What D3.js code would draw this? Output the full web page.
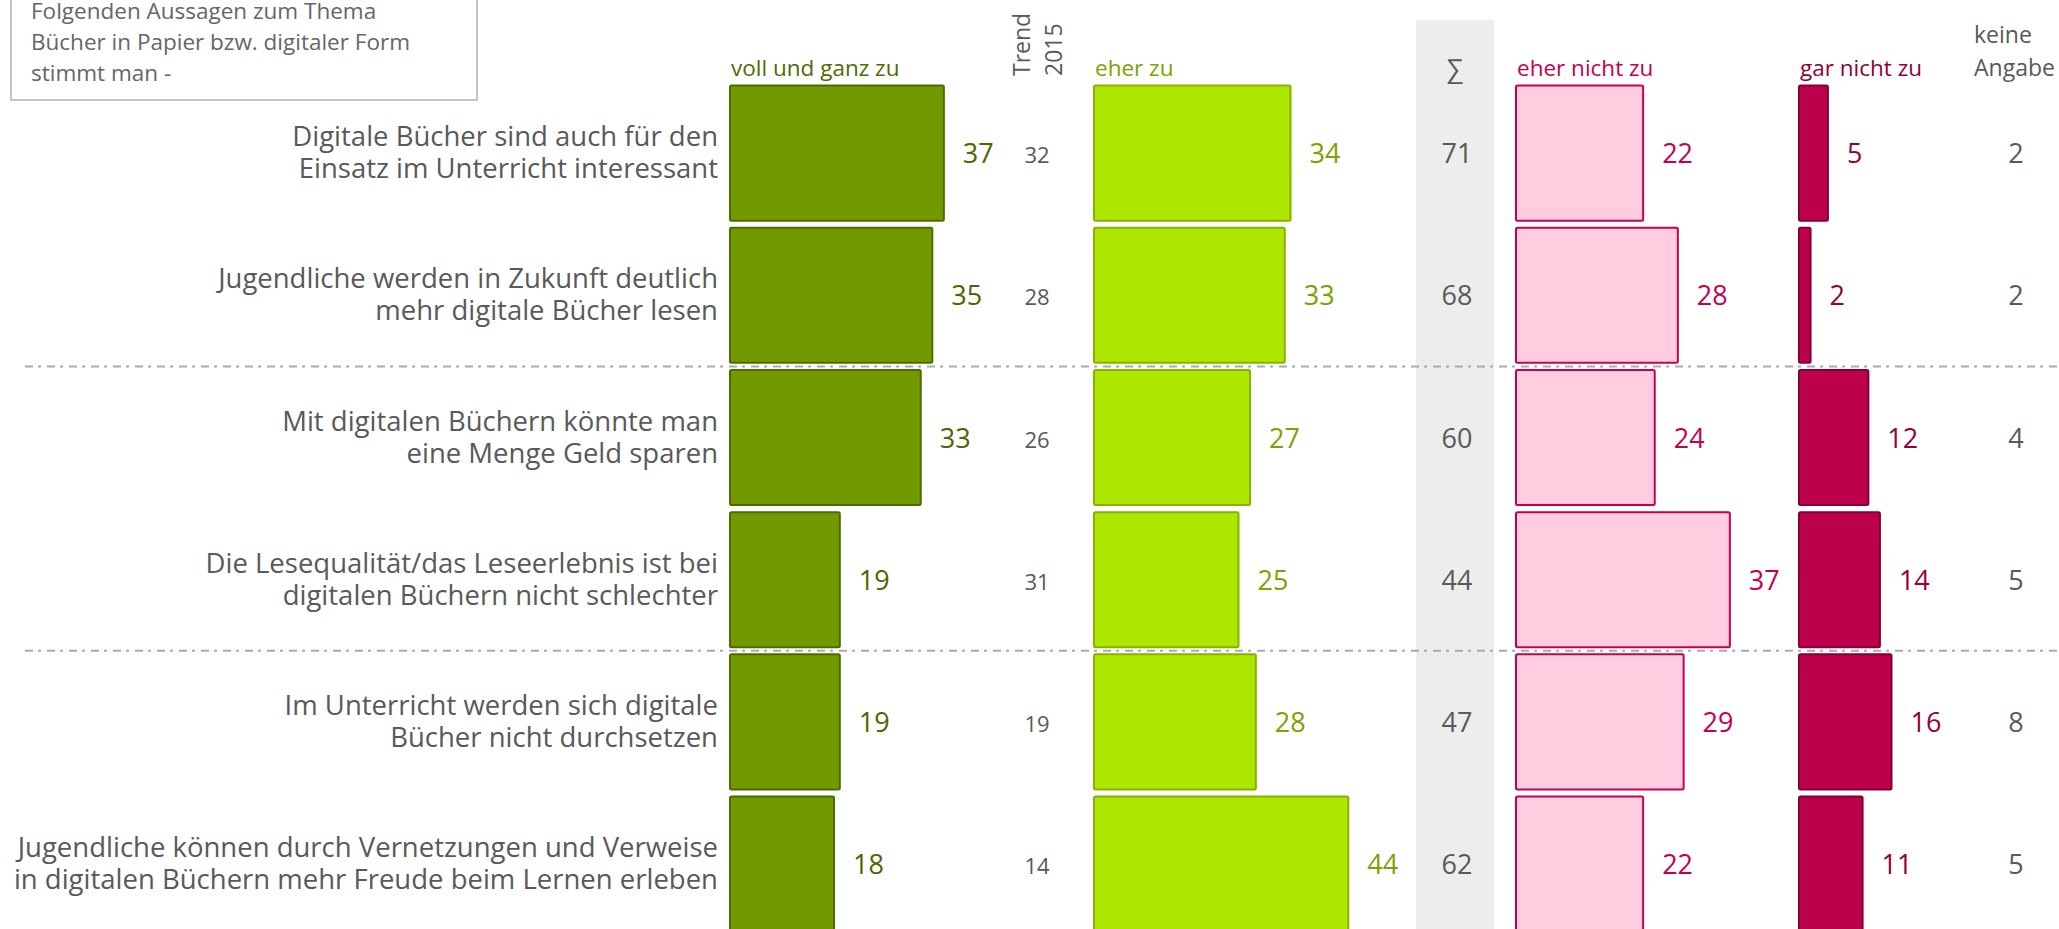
<!DOCTYPE html>
<html lang="de">
<head>
<meta charset="utf-8">
<title>Digitale Bücher – Zustimmung</title>
<script src="https://cdn.jsdelivr.net/npm/d3@7"></script>
<style>
  html, body { margin: 0; padding: 0; background: #fff; }
  svg { display: block; font-family: "Open Sans", "Noto Sans", "DejaVu Sans", sans-serif; }
</style>
</head>
<body>
<svg id="chart" width="2059" height="929"></svg>
<script>
// Statements (two lines each)
const statements = [
  ["Digitale Bücher sind auch für den", "Einsatz im Unterricht interessant"],
  ["Jugendliche werden in Zukunft deutlich", "mehr digitale Bücher lesen"],
  ["Mit digitalen Büchern könnte man", "eine Menge Geld sparen"],
  ["Die Lesequalität/das Leseerlebnis ist bei", "digitalen Büchern nicht schlechter"],
  ["Im Unterricht werden sich digitale", "Bücher nicht durchsetzen"],
  ["Jugendliche können durch Vernetzungen und Verweise", "in digitalen Büchern mehr Freude beim Lernen erleben"]
];

// Answer shares in percent
const vollUndGanz = [37, 35, 33, 19, 19, 18];
const trend2015   = [32, 28, 26, 31, 19, 14];
const eherZu      = [34, 33, 27, 25, 28, 44];
const summe       = [71, 68, 60, 44, 47, 62];
const eherNicht   = [22, 28, 24, 37, 29, 22];
const garNicht    = [5, 2, 12, 14, 16, 11];
const keineAngabe = [2, 2, 4, 5, 8, 5];

const headerLines = ["Folgenden Aussagen zum Thema", "Bücher in Papier bzw. digitaler Form", "stimmt man -"];
const seriesNames = ["voll und ganz zu", "eher zu", "eher nicht zu", "gar nicht zu"];
const trendHeader = ["Trend", "2015"];
const sumHeader = "\u2211";
const keineHeader = ["keine", "Angabe"];

const svg = d3.select("#chart");
const grey = "#595959";

const rows = d3.range(statements.length);
const y = d3.scaleBand().domain(rows).range([82, 82 + 6 * 142.2]).paddingInner(0.05).paddingOuter(0.025);
const x = d3.scaleLinear().domain([0, 100]).range([0, 578]);

// column definitions for the bar groups
const barCols = [
  { name: seriesNames[0], values: vollUndGanz, left: 730, fill: "#719900", stroke: "#4f6b00", label: "#4f6600", head: "#4f6b00" },
  { name: seriesNames[1], values: eherZu,      left: 1094, fill: "#ade600", stroke: "#86b300", label: "#7aa300", head: "#7aa300" },
  { name: seriesNames[2], values: eherNicht,   left: 1516, fill: "#ffcce0", stroke: "#c4004f", label: "#c4004f", head: "#c4004f" },
  { name: seriesNames[3], values: garNicht,    left: 1799, fill: "#bd004b", stroke: "#85002f", label: "#96003c", head: "#8f0038" }
];

const trendX = 1037, sumX = 1457, keineX = 2016;

// grey band behind the sum column
svg.append("rect")
  .attr("x", 1416).attr("y", 20).attr("width", 78).attr("height", 929 - 20)
  .attr("fill", "#ededed");

// question box in the top left corner
svg.append("rect")
  .attr("x", 11).attr("y", -20).attr("width", 466).attr("height", 120)
  .attr("fill", "none").attr("stroke", "#b8b8b8").attr("stroke-width", 1.6);
svg.append("g").selectAll("text").data(headerLines).join("text")
  .attr("x", 31).attr("y", (d, i) => 19 + i * 31)
  .attr("font-size", 22.5).attr("fill", "#666")
  .text(d => d);

// column headers
const headY = 76;
svg.append("g").selectAll("text").data(barCols).join("text")
  .attr("x", d => d.left + 1).attr("y", headY)
  .attr("font-size", 22.5).attr("fill", d => d.head)
  .text(d => d.name);

svg.append("g").selectAll("text").data(trendHeader).join("text")
  .attr("transform", (d, i) => `translate(${1030 + i * 32},${headY}) rotate(-90)`)
  .attr("font-size", 23).attr("fill", grey)
  .text(d => d);

svg.append("text")
  .attr("x", sumX - 2).attr("y", headY + 2).attr("text-anchor", "middle")
  .attr("font-size", 26).attr("fill", grey)
  .text(sumHeader);

svg.append("g").selectAll("text").data(keineHeader).join("text")
  .attr("x", 1974).attr("y", (d, i) => 43 + i * 33)
  .attr("font-size", 23).attr("fill", grey)
  .text(d => d);

// statement labels
const labelG = svg.append("g");
rows.forEach(r => {
  const cy = y(r) + y.bandwidth() / 2;
  labelG.append("text")
    .attr("x", 718).attr("text-anchor", "end")
    .attr("font-size", 27.5).attr("fill", grey)
    .selectAll("tspan").data(statements[r]).join("tspan")
    .attr("x", 718).attr("y", (d, i) => cy - 7 + i * 32)
    .text(d => d);
});

// bars with value labels
barCols.forEach(col => {
  const g = svg.append("g");
  g.selectAll("rect").data(col.values).join("rect")
    .attr("x", col.left)
    .attr("y", (d, i) => y(i))
    .attr("width", d => x(d))
    .attr("height", y.bandwidth())
    .attr("rx", 1.5)
    .attr("fill", col.fill)
    .attr("stroke", col.stroke)
    .attr("stroke-width", 2);
  g.selectAll("text").data(col.values).join("text")
    .attr("x", d => col.left + x(d) + 19)
    .attr("y", (d, i) => y(i) + y.bandwidth() / 2 + 10)
    .attr("font-size", 27).attr("fill", col.label)
    .text(d => d);
});

// centred number columns
function numberColumn(values, cx, size, color) {
  svg.append("g").selectAll("text").data(values).join("text")
    .attr("x", cx).attr("text-anchor", "middle")
    .attr("y", (d, i) => y(i) + y.bandwidth() / 2 + 10)
    .attr("font-size", size).attr("fill", color)
    .text(d => d);
}
numberColumn(trend2015, trendX, 22, grey);
numberColumn(summe, sumX, 27, grey);
numberColumn(keineAngabe, keineX, 27, grey);

// dash-dot separators between statement groups
[2, 4].forEach(r => {
  const yy = y(r) - y.step() * y.paddingInner() / 2;
  svg.append("line")
    .attr("x1", 25).attr("x2", 2059).attr("y1", yy).attr("y2", yy)
    .attr("stroke", "#aaaaaa").attr("stroke-width", 2)
    .attr("stroke-dasharray", "8,5,3,6");
});
</script>
</body>
</html>
